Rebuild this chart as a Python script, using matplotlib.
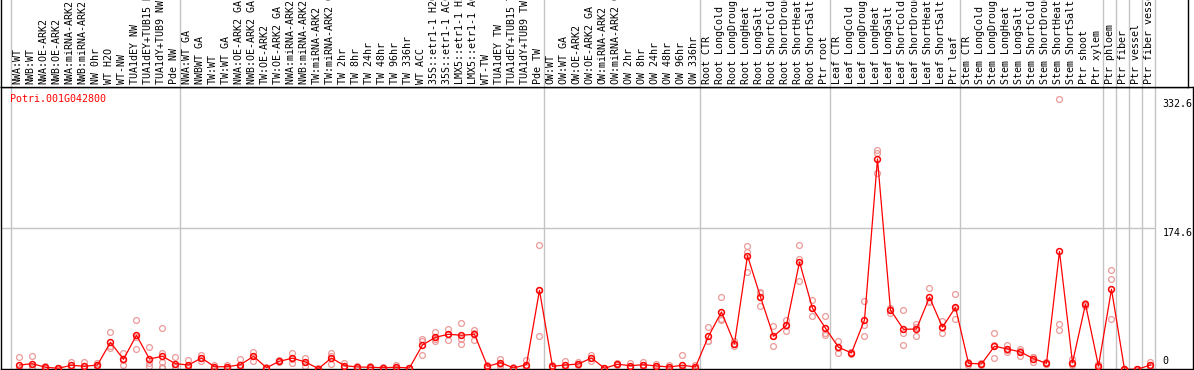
import matplotlib.pyplot as plt
import numpy as np

gene = "Potri.001G042800"

samples = [
    "NWA:WT", "NWB:WT", "NWA:OE-ARK2", "NWB:OE-ARK2", "NWA:miRNA-ARK2", "NWB:miRNA-ARK2",
    "NW 0hr", "WT H2O", "WT-NW", "TUA1dEY NW", "TUA1dEY+TUB15 NW", "TUA1dY+TUB9 NW", "Pde NW",
    "NWA:WT GA", "NWBWT GA", "TW:WT", "TW:WT GA", "NWA:OE-ARK2 GA", "NWB:OE-ARK2 GA",
    "TW:OE-ARK2", "TW:OE-ARK2 GA", "NWA:miRNA-ARK2 GA", "NWB:miRNA-ARK2 GA", "TW:miRNA-ARK2",
    "TW:miRNA-ARK2 GA", "TW 2hr", "TW 8hr", "TW 24hr", "TW 48hr", "TW 96hr", "TW 336hr",
    "WT ACC", "35S::etr1-1 H2O", "35S::etr1-1 ACC", "LMX5::etr1-1 H2O", "LMX5::etr1-1 ACC",
    "WT-TW", "TUA1dEY TW", "TUA1dEY+TUB15 TW", "TUA1dY+TUB9 TW", "Pde TW",
    "OW:WT", "OW:WT GA", "OW:OE-ARK2", "OW:OE-ARK2 GA", "OW:miRNA-ARK2", "OW:miRNA-ARK2 GA",
    "OW 2hr", "OW 8hr", "OW 24hr", "OW 48hr", "OW 96hr", "OW 336hr",
    "Root CTR", "Root LongCold", "Root LongDrought", "Root LongHeat", "Root LongSalt",
    "Root ShortCold", "Root ShortDrought", "Root ShortHeat", "Root ShortSalt", "Ptr root",
    "Leaf CTR", "Leaf LongCold", "Leaf LongDrought", "Leaf LongHeat", "Leaf LongSalt",
    "Leaf ShortCold", "Leaf ShortDrought", "Leaf ShortHeat", "Leaf ShortSalt", "Ptr leaf",
    "Stem CTR", "Stem LongCold", "Stem LongDrought", "Stem LongHeat", "Stem LongSalt",
    "Stem ShortCold", "Stem ShortDrought", "Stem ShortHeat", "Stem ShortSalt", "Ptr shoot",
    "Ptr xylem", "Ptr phloem", "Ptr fiber", "Ptr vessel", "Ptr fiber vessel",
]

means = [
    6.1, 7.7, 3.3, 2.1, 5.8, 4.5, 6.1, 34.0, 13.1, 42.6, 13.5, 16.8, 7.7,
    6.1, 14.7, 4.0, 4.0, 6.5, 16.8, 2.8, 10.7, 14.4, 9.8, 1.6, 14.7, 5.3, 3.7, 3.3,
    2.8, 3.3, 2.5, 30.7, 40.1, 43.8, 42.6, 43.8, 4.5, 9.0, 2.5, 6.5, 97.8,
    4.5, 6.1, 7.4, 14.7, 2.1, 7.0, 5.3, 6.5, 4.9, 3.7, 5.8, 3.7,
    41.3, 71.2, 32.3, 140.2, 89.6, 41.3, 54.8, 132.5, 75.7, 51.2,
    27.9, 20.9, 61.3, 258.9, 73.6, 49.9, 50.3, 89.2, 52.4, 76.9,
    8.2, 7.4, 29.1, 25.8, 22.1, 13.9, 8.2, 145.6, 9.0, 80.6, 4.9,
    99.0, 0.9, 0.9, 6.1,
]

reps = [
    [16.0, 1.5, 0.8], [17.2, 3.5, 2.4], [4.9, 2.8, 2.2], [2.8, 1.9, 1.6], [9.8, 4.2, 3.4],
    [9.8, 2.0, 1.7], [8.2, 5.6, 4.5], [46.3, 29.1, 26.6], [20.5, 12.3, 6.5], [61.0, 41.0, 25.8],
    [27.9, 8.1, 4.5], [51.5, 20.5, 9.8, 4.0, 2.2], [16.0, 4.0, 3.1],
    [12.3, 3.5, 2.5], [18.8, 14.6, 10.7], [6.5, 3.0, 2.5], [6.5, 3.2, 2.3], [13.5, 3.5, 2.5],
    [21.7, 17.3, 11.4], [3.5, 2.6, 2.3], [12.3, 10.5, 9.3], [20.9, 13.7, 8.6], [14.4, 9.7, 5.3],
    [2.2, 1.4, 1.2], [20.5, 16.6, 7.0], [8.2, 4.4, 3.3], [5.3, 3.2, 2.6], [4.9, 2.8, 2.2],
    [3.6, 2.5, 2.3], [5.8, 2.4, 1.7], [3.0, 2.4, 2.1], [38.0, 35.3, 18.8], [47.0, 38.1, 35.2],
    [50.3, 44.7, 36.4], [57.7, 38.5, 31.5], [49.0, 45.2, 37.2], [6.5, 4.0, 3.0], [13.9, 7.8, 5.3],
    [3.1, 2.3, 2.1], [12.3, 4.0, 3.2], [153.0, 98.3, 42.1],
    [6.1, 4.0, 3.4], [11.4, 4.0, 2.9], [9.8, 6.9, 5.5], [18.0, 14.7, 11.4], [2.8, 1.9, 1.6],
    [8.2, 6.8, 6.0], [9.0, 4.0, 2.9], [9.8, 5.6, 4.1], [7.4, 4.2, 3.1], [6.5, 2.6, 2.0],
    [18.0, 1.0, 0.5], [5.8, 3.0, 2.3],
    [52.4, 35.9, 35.6], [89.2, 63.1, 61.3], [35.6, 31.9, 29.4], [152.5, 145.2, 120.2],
    [95.3, 94.6, 78.9], [53.6, 41.2, 29.1], [61.7, 54.5, 48.2], [153.0, 136.0, 108.8],
    [85.5, 75.7, 65.9], [66.3, 45.4, 42.9],
    [35.6, 26.9, 21.2], [22.1, 21.0, 19.6], [84.7, 55.6, 41.7], [269.9, 266.6, 242.1],
    [76.4, 74.8, 69.6], [73.3, 45.0, 30.3], [56.8, 52.4, 41.7], [100.2, 84.3, 83.1],
    [59.8, 51.6, 45.8], [92.9, 75.6, 62.2],
    [9.8, 8.3, 6.5], [9.0, 7.4, 5.8], [45.0, 31.0, 14.7], [31.0, 23.9, 22.5], [25.8, 23.3, 17.2],
    [16.3, 16.0, 9.4], [9.8, 7.8, 7.0], [332.6, 56.4, 49.1], [13.5, 7.4, 6.1], [82.6, 80.7, 78.5],
    [7.4, 4.2, 3.1], [122.3, 112.0, 62.2], [0.9, 0.8, 1.0], [1.0, 0.8, 0.9], [10.2, 4.6, 3.5],
]

# index of first sample of each group, plus the end
group_starts = [0, 13, 41, 53, 63, 73, 84, 85, 86, 87, 88]
y_ticks = [0, 174.6, 332.6]

W, H = 1194, 370
fig = plt.figure(figsize=(W / 100, H / 100), dpi=100)
mono = "DejaVu Sans Mono"
fs = 7.2
grey = "#c4c4c4"
pink = "#eb9a9a"

n = len(samples)
x = np.arange(n)
xlim = (-1.27, 90.42)

# main plot: pixels 1..1193 horizontally, 87..369 vertically
ax = fig.add_axes([1 / W, 1 / H, 1192 / W, 282 / H])
ax.set_xlim(*xlim)
ax.set_ylim(1.2, 347.2)
ax.set_xticks([])
ax.set_yticks([])
for s in ax.spines.values():
    s.set_linewidth(1.0)
ax.spines["right"].set_visible(True)

for b in group_starts:
    ax.axvline(b - 0.5, color=grey, lw=1.0, zorder=1)
ax.hlines(174.6, xlim[0], group_starts[-1] - 0.5, color=grey, lw=1.0, zorder=1)

xp = x + 0.15
for i, r in enumerate(reps):
    ax.plot([xp[i]] * len(r), r, "o", ms=4.2, mfc="none", mec=pink, mew=0.9, zorder=2)
ax.plot(xp, means, "-", color="red", lw=0.9, zorder=3)
ax.plot(xp, means, "o", ms=4.2, mfc="none", mec="red", mew=1.1, zorder=4)

tx = ax.get_yaxis_transform()
for t in y_ticks:
    if t == 0:
        ax.text(0.9745, 0.012, "0", transform=ax.transAxes, ha="left", va="bottom",
                fontsize=fs, family=mono)
    else:
        ax.text(0.9745, t, f"{t}", transform=tx, ha="left", va="top",
                fontsize=fs, family=mono)

ax.text(0.0075, 0.976, gene, transform=ax.transAxes, ha="left", va="top",
        color="red", fontsize=fs, family=mono)

# header with rotated sample names
hx = fig.add_axes([1 / W, (H - 87) / H, 1187 / W, 87 / H])
hx.set_xlim(xlim[0], xlim[0] + (xlim[1] - xlim[0]) * 1187 / 1192)
hx.set_ylim(0, 1)
hx.set_xticks([])
hx.set_yticks([])
hx.spines["top"].set_visible(False)
for s in hx.spines.values():
    s.set_linewidth(1.0)
for b in group_starts:
    hx.axvline(b - 0.5, color=grey, lw=1.0, zorder=1)
htr = hx.get_xaxis_transform()
for i, name in enumerate(samples):
    hx.text(x[i], 0.03, name, transform=htr, rotation=90, ha="center", va="bottom",
            fontsize=fs, family=mono, clip_on=True)

fig.savefig("out.png", dpi=100)
